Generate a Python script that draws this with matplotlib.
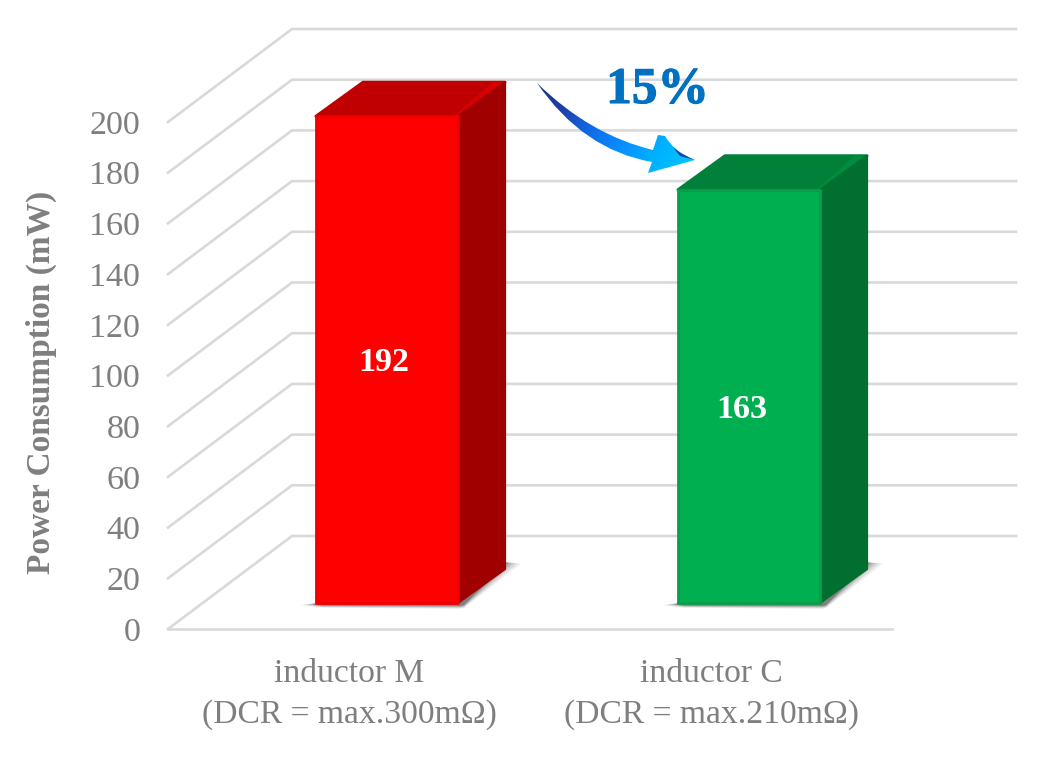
import numpy as np
import matplotlib
matplotlib.use("Agg")
import matplotlib.pyplot as plt
import matplotlib.patheffects as pe
from matplotlib.colors import LinearSegmentedColormap
from matplotlib.patches import Polygon, PathPatch
from matplotlib.path import Path

# ---- data ----
categories = ["inductor M\n(DCR = max.300mΩ)", "inductor C\n(DCR = max.210mΩ)"]
values = [192, 163]
y_ticks = list(range(0, 201, 20))
y_label = "Power Consumption (mW)"
callout = "15%"

front_colors = ["#FF0000", "#00B050"]
top_colors = ["#C00000", "#008038"]
side_colors = ["#A00000", "#006F30"]
bevel_colors = ["#D80000", "#008C3E"]
edge_colors = ["#EE0000", "#0A9E4C"]
label_nudges = [(-3, -3), (-7, -13)]   # pixels

W, H = 1050, 757
plt.rcParams["font.family"] = ["Liberation Serif", "DejaVu Serif"]
GREY = "#7F7F7F"
GRID = "#D9D9D9"

fig = plt.figure(figsize=(W / 100, H / 100), dpi=100)
L, R, T, B = 168, 892, 122, 629
ax = fig.add_axes([L / W, 1 - B / H, (R - L) / W, (B - T) / H])
ax.set_xlim(-0.5, 1.5)
ax.set_ylim(0, 200)
ax.patch.set_alpha(0)
for s in ax.spines.values():
    s.set_visible(False)

ux = (R - L) / 2      # px per category
uy = (B - T) / 200    # px per value unit
DX, DY = 124 / ux, 93 / uy   # depth of the floor, data units

# walls / gridlines
for v in y_ticks:
    ax.plot([-0.5, -0.5 + DX, 1.5 + DX], [v, v + DY, v + DY], color=GRID,
            lw=1.9, clip_on=False, zorder=1, solid_joinstyle="round")
ax.plot([-0.5, 1.5], [0, 0], color=GRID, lw=1.9, clip_on=False, zorder=1)

# 3-D bars
bw = 142 / ux
bx = 38 / ux       # shift of the bar from the category centre
by = 26 / uy       # lift of the bar base above the floor front
dx, dy = 47 / ux, 34 / uy
for i, (val, lab) in enumerate(zip(values, categories)):
    xl = i + bx - bw / 2
    xr = xl + bw
    y0, y1 = by, by + val
    px, py = 1 / ux, 1 / uy
    # soft floor shadow
    for e, a in [(16, .08), (13, .10), (10, .14), (7, .18), (4, .24), (2, .32)]:
        ax.add_patch(Polygon([(xl - e * px, y0 - (1.2 + e * .06) * py),
                              (xl + 6 * px, y0 - (2.2 + e * .16) * py),
                              (xr + 2 * px, y0 - (2.4 + e * .22) * py),
                              (xr + 6 * px, y0 - (1.6 + e * .22) * py),
                              (xr + dx + e * px, y0 + dy + (7 - e * .1) * py),
                              (xr + dx - 10 * px, y0 + dy + 7 * py),
                              (xl, y0)],
                             closed=True, fc="#4A4A4A", ec="none", alpha=a,
                             clip_on=False, zorder=2))
    # top
    ax.add_patch(Polygon([(xl, y1), (xr, y1), (xr + dx, y1 + dy), (xl + dx, y1 + dy)],
                         closed=True, fc=top_colors[i], ec=top_colors[i], lw=2.2,
                         joinstyle="round", clip_on=False, zorder=3))
    # lighter bevel along the right of the top face
    ax.add_patch(Polygon([(xr, y1), (xr + dx, y1 + dy), (xr + dx - 12 * px, y1 + dy),
                          (xr - 3 * px, y1 + 1 * py)],
                         closed=True, fc=bevel_colors[i], ec="none",
                         clip_on=False, zorder=3.1))
    # side
    ax.add_patch(Polygon([(xr, y0), (xr + dx, y0 + dy), (xr + dx, y1 + dy), (xr, y1)],
                         closed=True, fc=side_colors[i], ec=side_colors[i], lw=1.6,
                         joinstyle="round", clip_on=False, zorder=3.2))
    # front
    ax.add_patch(Polygon([(xl, y0), (xr, y0), (xr, y1), (xl, y1)],
                         closed=True, fc=front_colors[i], ec=edge_colors[i], lw=2.0,
                         joinstyle="round", clip_on=False, zorder=4))
    ax.annotate(str(val), (i + bx, y0 + val / 2), xytext=(label_nudges[i][0] * .72,
                label_nudges[i][1] * .72), textcoords="offset points",
                ha="center", va="center", color="white", fontsize=24.5,
                fontweight="bold", zorder=5)

# axes text
ax.set_yticks(y_ticks)
ax.set_xticks([0, 1])
ax.set_xticklabels(categories, color=GREY, fontsize=24.2, linespacing=1.43)
ax.tick_params(axis="y", length=0, pad=20, labelsize=24.6, labelcolor=GREY)
ax.tick_params(axis="x", length=0, pad=21.5)
fig.text(41 / W, 1 - 382 / H, y_label, rotation=90, ha="center", va="center",
         color=GREY, fontsize=24, fontweight="bold")

# overlay in pixel space for the call-out arrow
ov = fig.add_axes([0, 0, 1, 1], zorder=10)
ov.set_xlim(0, W)
ov.set_ylim(H, 0)
ov.axis("off")
ov.patch.set_alpha(0)
M, LN, C3 = Path.MOVETO, Path.LINETO, Path.CURVE3
arrow_v = [(537, 83), (590, 135), (653, 150), (658, 135), (665, 136),
           (674, 152), (695, 160), (648, 173), (652, 162),
           (583, 150), (537, 83), (537, 83)]
arrow_c = [M, C3, C3, LN, LN, C3, C3, LN, LN, C3, C3, Path.CLOSEPOLY]
gx, gy = np.meshgrid(np.linspace(530, 700, 170), np.linspace(75, 180, 105))
g = np.clip(((gx - 537) * 0.85 + (gy - 83) * 0.55) / 175, 0, 1)
cmap = LinearSegmentedColormap.from_list(
    "arrow", ["#1C2F8C", "#1F3FA8", "#0F6AE6", "#0A8CFF", "#00B0FF", "#00C4FF"])
im = ov.imshow(g, extent=(530, 700, 180, 75), cmap=cmap, vmin=0, vmax=1,
               aspect="auto", interpolation="bilinear", zorder=6)
im.set_clip_path(Path(arrow_v, arrow_c), transform=ov.transData)
ov.add_patch(PathPatch(Path([(672, 146), (678, 153), (695, 160), (680, 156), (672, 146)],
                            [M, C3, C3, LN, LN]),
                       fc="#1C3FA0", ec="none", zorder=7))
ov.set_xlim(0, W)
ov.set_ylim(H, 0)
ov.text(657.5, 91, callout, ha="center", va="center", color="#0070C0", fontsize=37,
        fontweight="bold", zorder=8,
        path_effects=[pe.withStroke(linewidth=0.8, foreground="#0070C0")])

fig.savefig("out.png", dpi=100)
